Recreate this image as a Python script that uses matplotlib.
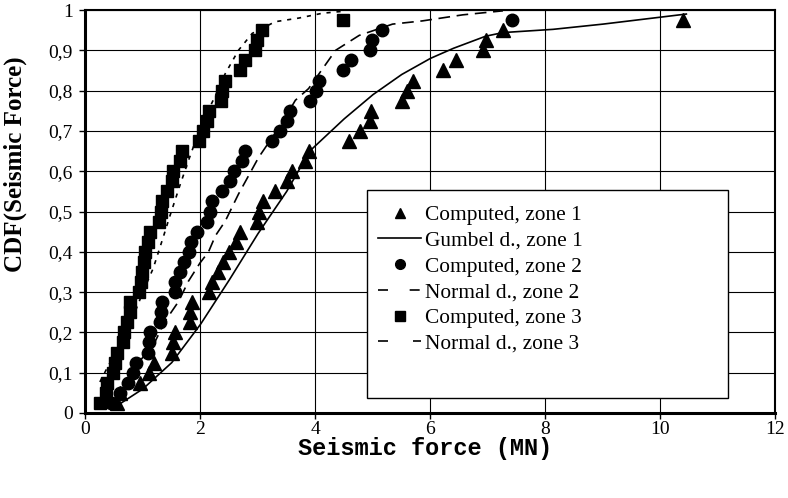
import matplotlib
matplotlib.use('Agg')
import matplotlib.pyplot as plt
from matplotlib.lines import Line2D
from matplotlib.patches import Rectangle
from matplotlib.ticker import FuncFormatter

# CDF levels shared by the computed points (i/40)
cdf_levels = [0.025, 0.05, 0.075, 0.1, 0.125, 0.15, 0.175, 0.2, 0.225, 0.25,
              0.275, 0.3, 0.325, 0.35, 0.375, 0.4, 0.425, 0.45, 0.475, 0.5,
              0.525, 0.55, 0.575, 0.6, 0.625, 0.65, 0.675, 0.7, 0.725, 0.75,
              0.775, 0.8, 0.825, 0.85, 0.875, 0.9, 0.925, 0.95, 0.975]

zone1_force = [0.55, 0.6, 0.95, 1.1, 1.2, 1.5, 1.52, 1.55, 1.82, 1.82,
               1.85, 2.15, 2.2, 2.3, 2.4, 2.5, 2.62, 2.68, 2.98, 3.02,
               3.08, 3.3, 3.5, 3.6, 3.82, 3.88, 4.58, 4.77, 4.95, 4.97,
               5.5, 5.6, 5.7, 6.22, 6.45, 6.92, 6.96, 7.26, 10.4]

zone2_force = [0.45, 0.6, 0.74, 0.83, 0.88, 1.08, 1.1, 1.13, 1.3, 1.32,
               1.33, 1.55, 1.56, 1.65, 1.71, 1.8, 1.84, 1.94, 2.11, 2.17,
               2.2, 2.37, 2.52, 2.58, 2.72, 2.78, 3.24, 3.39, 3.51, 3.56,
               3.91, 4.01, 4.06, 4.47, 4.61, 4.95, 4.98, 5.16, 7.42]

zone3_force = [0.25, 0.35, 0.38, 0.48, 0.52, 0.55, 0.65, 0.67, 0.72, 0.77,
               0.78, 0.93, 0.96, 0.98, 1.01, 1.03, 1.08, 1.12, 1.27, 1.31,
               1.33, 1.41, 1.5, 1.53, 1.64, 1.67, 1.97, 2.05, 2.11, 2.14,
               2.36, 2.37, 2.43, 2.69, 2.78, 2.95, 2.98, 3.07, 4.47]

# fitted distributions
gumbel1_x = [0.57, 1.0, 1.5, 2.0, 2.5, 3.0, 3.5, 3.9, 4.5, 5.0, 5.5, 6.0,
             6.4, 6.96, 7.26, 8.13, 9.0, 10.45]
gumbel1_y = [0.02, 0.06, 0.125, 0.22, 0.33, 0.445, 0.55, 0.65, 0.73, 0.79,
             0.84, 0.88, 0.905, 0.935, 0.944, 0.952, 0.965, 0.99]

normal2_x = [0.74, 0.98, 1.21, 1.38, 1.62, 1.79, 1.99, 2.14, 2.26, 2.43,
             2.66, 3.01, 3.42, 3.65, 3.88, 4.35, 4.76, 5.34, 5.86, 6.56, 7.26]
normal2_y = [0.10, 0.135, 0.177, 0.227, 0.277, 0.327, 0.372, 0.40, 0.44,
             0.476, 0.543, 0.634, 0.72, 0.776, 0.805, 0.90, 0.937, 0.965,
             0.973, 0.988, 0.998]

normal3_x = [0.25, 0.37, 0.6, 0.8, 1.0, 1.18, 1.36, 1.47, 1.64, 1.79, 2.0,
             2.26, 2.43, 2.66, 2.9, 3.3, 3.71, 4.12, 4.5]
normal3_y = [0.077, 0.11, 0.17, 0.23, 0.30, 0.36, 0.44, 0.49, 0.564, 0.626,
             0.71, 0.788, 0.842, 0.90, 0.942, 0.971, 0.98, 0.992, 0.997]

legend_labels = ['Computed, zone 1', 'Gumbel d., zone 1', 'Computed, zone 2',
                 'Normal d., zone 2', 'Computed, zone 3', 'Normal d., zone 3']

serif = 'Liberation Serif'
mono = 'Liberation Mono'

fig = plt.figure(figsize=(7.88, 4.98), dpi=100)
ax = fig.add_axes([0.1085, 0.1707, 0.8756, 0.8092])

ax.plot(zone1_force, cdf_levels, ls='none', marker='^', ms=9.5, color='black', zorder=3)
ax.plot(gumbel1_x, gumbel1_y, '-', color='black', lw=1.2, zorder=3)
ax.plot(zone2_force, cdf_levels, ls='none', marker='o', ms=9, color='black', zorder=3)
ax.plot(normal2_x, normal2_y, color='black', lw=1.2, dashes=(7, 4), zorder=3)
ax.plot(zone3_force, cdf_levels, ls='none', marker='s', ms=8.5, color='black', zorder=3)
ax.plot(normal3_x, normal3_y, color='black', lw=1.2, dashes=(2.5, 3.5), zorder=3)

ax.set_xlim(0, 12)
ax.set_ylim(0, 1)
ax.set_xticks(range(0, 13, 2))
ax.set_yticks([i / 10 for i in range(11)])
ax.yaxis.set_major_formatter(FuncFormatter(lambda v, p: ('%g' % round(v, 1)).replace('.', ',')))
ax.grid(True, color='black', lw=0.8, zorder=0)
ax.set_axisbelow(True)
ax.tick_params(direction='out', length=4, width=1, labelsize=14)
ax.tick_params(axis='x', pad=1.5)
ax.tick_params(axis='y', pad=5)
for lab in ax.get_xticklabels() + ax.get_yticklabels():
    lab.set_family(serif)
for side in ['left', 'bottom']:
    ax.spines[side].set_linewidth(2.2)
for side in ['top', 'right']:
    ax.spines[side].set_linewidth(1.5)

ax.set_xlabel('Seismic force (MN)', family=mono, weight='bold', fontsize=17)
ax.xaxis.set_label_coords(0.492, -0.06)
ax.set_ylabel('CDF(Seismic Force)', family=serif, weight='bold', fontsize=18)
ax.yaxis.set_label_coords(-0.085, 0.618)

# legend box
ax.add_patch(Rectangle((4.896, 0.037), 6.274, 0.516, facecolor='white',
                       edgecolor='black', lw=1, zorder=4))
handles = [
    Line2D([], [], ls='none', marker='^', ms=7.5, color='black'),
    Line2D([], [], ls='-', lw=1.2, color='black'),
    Line2D([], [], ls='none', marker='o', ms=7, color='black'),
    Line2D([], [], lw=1.2, color='black', dashes=(6, 13)),
    Line2D([], [], ls='none', marker='s', ms=6.5, color='black'),
    Line2D([], [], lw=1.2, color='black', dashes=(6, 15)),
]
leg = ax.legend(handles, legend_labels, loc='upper left', bbox_to_anchor=(5.09, 0.516),
                bbox_transform=ax.transData, frameon=False, borderpad=0,
                borderaxespad=0, handlelength=2.0, handletextpad=0.2,
                labelspacing=0.27, prop={'family': serif, 'size': 15.4})
leg.set_zorder(5)

fig.savefig('out.png', dpi=100)
